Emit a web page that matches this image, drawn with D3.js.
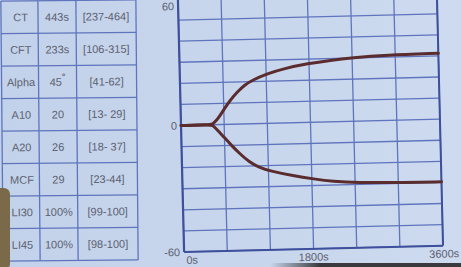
<!DOCTYPE html>
<html>
<head>
<meta charset="utf-8">
<script src="https://cdn.jsdelivr.net/npm/d3@7"></script>
<style>
  html, body { margin: 0; padding: 0; background: #c6d5ec; }
  svg { display: block; }
  text { font-family: "Liberation Sans", Arial, sans-serif; }
</style>
</head>
<body>
<div id="chart"></div>
<script>
// parameter table
var paramNames  = ["CT", "CFT", "Alpha", "A10", "A20", "MCF", "LI30", "LI45"];
var paramValues = ["443s", "233s", "45", "20", "26", "29", "100%", "100%"];
var paramRanges = ["[237-464]", "[106-315]", "[41-62]", "[13- 29]", "[18- 37]", "[23-44]", "[99-100]", "[98-100]"];

// trace, [seconds, mm]
var upperTrace = [[0, 0], [400, 0], [440, 0.3], [480, 1.5], [540, 4], [610, 7.5], [694, 11.5], [800, 15.5],
                  [900, 18.5], [1000, 20.6], [1219, 23.6], [1446, 25.8], [1786, 27.9], [2100, 29.2],
                  [2395, 30.1], [2863, 31], [3600, 31.3]];
var lowerTrace = [[0, 0], [400, 0], [440, -0.3], [490, -2], [580, -5.5], [694, -10], [820, -14.5],
                  [935, -18], [1060, -20.6], [1219, -22.6], [1545, -25.2], [1828, -26.9], [2100, -28.3],
                  [2395, -29.2], [3104, -29.6], [3600, -29.7]];

var xTicks = [0, 600, 1200, 1800, 2400, 3000, 3600];
var yTicks = [-60, -50, -40, -30, -20, -10, 0, 10, 20, 30, 40, 50, 60];
var xLabels = [{ t: 0, label: "0s" }, { t: 1800, label: "1800s" }, { t: 3600, label: "3600s" }];
var yLabels = [{ v: 60, label: "60" }, { v: 0, label: "0" }, { v: -60, label: "-60" }];

var width = 461, height = 267;

var svg = d3.select("#chart").append("svg")
            .attr("width", width)
            .attr("height", height);

var defs = svg.append("defs");
var bg = defs.append("linearGradient").attr("id", "bg").attr("x1", 0).attr("x2", 1).attr("y1", 0).attr("y2", 0);
bg.append("stop").attr("offset", "0%").attr("stop-color", "#c2d2ea");
bg.append("stop").attr("offset", "100%").attr("stop-color", "#cddaef");

var bezel = defs.append("linearGradient").attr("id", "bezel").attr("x1", 0).attr("x2", 1).attr("y1", 0).attr("y2", 0);
bezel.append("stop").attr("offset", "0%").attr("stop-color", "#3a3a3e").attr("stop-opacity", 0);
bezel.append("stop").attr("offset", "25%").attr("stop-color", "#3a3a3e").attr("stop-opacity", 1);
bezel.append("stop").attr("offset", "100%").attr("stop-color", "#3a3a3e").attr("stop-opacity", 1);

svg.append("rect").attr("width", width).attr("height", height).style("fill", "url(#bg)");

// ---- table ----
var colX = [2, 39, 77, 137];
var rowY = d3.range(paramNames.length + 1).map(function (i) { return 0.5 + i * 32.5; });

var table = svg.append("g").attr("transform", "rotate(-0.5, 70, 130)");

table.selectAll("line.col").data(colX).enter().append("line")
     .attr("x1", function (d) { return d; }).attr("x2", function (d) { return d; })
     .attr("y1", rowY[0]).attr("y2", rowY[rowY.length - 1])
     .style("stroke", "#5f74bd").style("stroke-width", 1.3);

table.selectAll("line.row").data(rowY).enter().append("line")
     .attr("x1", colX[0]).attr("x2", colX[3])
     .attr("y1", function (d) { return d; }).attr("y2", function (d) { return d; })
     .style("stroke", "#5f74bd").style("stroke-width", 1.3);

var rows = table.selectAll("g.row").data(paramNames).enter().append("g")
                .attr("transform", function (d, i) { return "translate(0," + ((rowY[i] + rowY[i + 1]) / 2 + 4) + ")"; });

rows.append("text").attr("x", (colX[0] + colX[1]) / 2 + 1).attr("text-anchor", "middle")
    .style("font-size", "11px").style("fill", "#5c6070")
    .text(function (d) { return d; });

rows.append("text").attr("x", (colX[1] + colX[2]) / 2).attr("text-anchor", "middle")
    .style("font-size", "11px").style("fill", "#5c6070")
    .text(function (d, i) { return paramValues[i]; })
    .filter(function (d) { return d === "Alpha"; })
    .append("tspan").attr("dy", -6).style("font-size", "9px").style("font-weight", "bold").text("°");

rows.append("text").attr("x", (colX[2] + colX[3]) / 2).attr("text-anchor", "middle")
    .style("font-size", "11px").style("fill", "#5c6070")
    .text(function (d, i) { return paramRanges[i]; });

// ---- trace chart ----
var x = d3.scaleLinear().domain([0, 3600]).range([181, 440]);
var y = d3.scaleLinear().domain([-60, 60]).range([252, -1]);

var chart = svg.append("g").attr("transform", "rotate(-1.4, 181, 125)");

chart.selectAll("line.vgrid").data(xTicks).enter().append("line")
     .attr("x1", function (d) { return x(d); }).attr("x2", function (d) { return x(d); })
     .attr("y1", y(60) - 10).attr("y2", y(-60))
     .style("stroke", "#5f74bd").style("stroke-width", 1.3);

chart.selectAll("line.hgrid").data(yTicks).enter().append("line")
     .attr("x1", x(0)).attr("x2", x(3600))
     .attr("y1", function (d) { return y(d); }).attr("y2", function (d) { return y(d); })
     .style("stroke", "#5f74bd").style("stroke-width", 1.3);

// axes frame
chart.append("line").attr("x1", x(0)).attr("x2", x(0)).attr("y1", y(60) - 10).attr("y2", y(-60))
     .style("stroke", "#3e4f9c").style("stroke-width", 2.2);
chart.append("line").attr("x1", x(3600)).attr("x2", x(3600)).attr("y1", y(60) - 10).attr("y2", y(-60))
     .style("stroke", "#3e4f9c").style("stroke-width", 2);
chart.append("line").attr("x1", x(0)).attr("x2", x(3600)).attr("y1", y(-60)).attr("y2", y(-60))
     .style("stroke", "#3e4f9c").style("stroke-width", 2);

chart.selectAll("text.ylab").data(yLabels).enter().append("text")
     .attr("x", x(0) - 4).attr("y", function (d) { return d.v === 60 ? 10 : y(d.v) + 4; })
     .attr("text-anchor", "end")
     .style("font-size", "11px").style("fill", "#5c6070")
     .text(function (d) { return d.label; });

chart.selectAll("text.xlab").data(xLabels).enter().append("text")
     .attr("x", function (d) { return x(d.t); }).attr("y", y(-60) + 12)
     .attr("text-anchor", function (d) { return d.t === 0 ? "start" : (d.t === 3600 ? "end" : "middle"); })
     .attr("dx", function (d) { return d.t === 0 ? 2 : (d.t === 3600 ? 16 : 0); })
     .style("font-size", "11px").style("fill", "#5c6070")
     .text(function (d) { return d.label; });

var traceLine = d3.line()
                  .x(function (d) { return x(d[0]); })
                  .y(function (d) { return y(d[1]); })
                  .curve(d3.curveBasis);

chart.selectAll("path.trace").data([upperTrace, lowerTrace]).enter().append("path")
     .attr("d", traceLine)
     .style("fill", "none")
     .style("stroke", "#5a2c2e")
     .style("stroke-width", 3)
     .style("stroke-linecap", "round");

// finger and screen bezel
svg.append("rect").attr("x", -8).attr("y", 188).attr("width", 18).attr("height", 82).attr("rx", 6)
   .style("fill", "#7b6a4a");
svg.append("rect").attr("x", 270).attr("y", 263).attr("width", 200).attr("height", 6)
   .style("fill", "url(#bezel)");
</script>
</body>
</html>
